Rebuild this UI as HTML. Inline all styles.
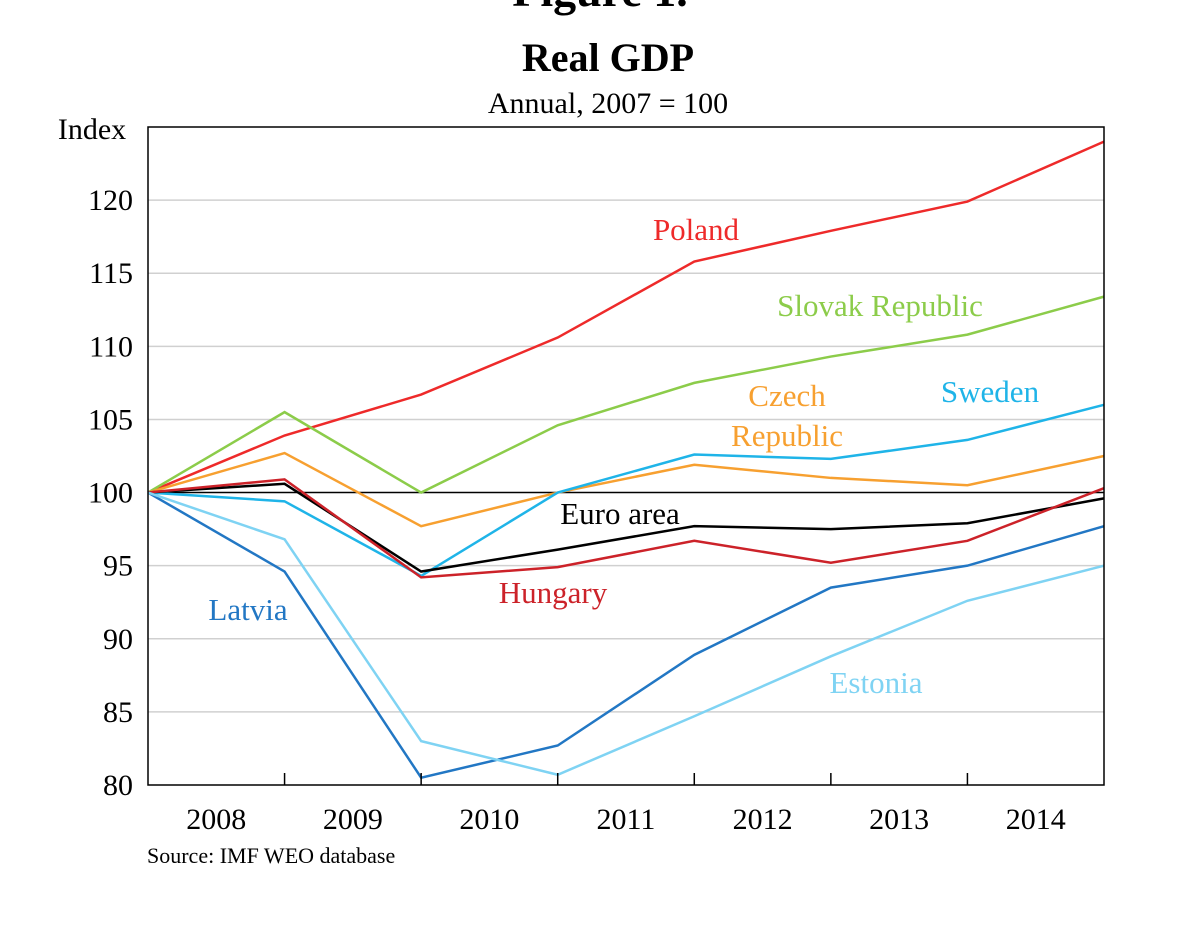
<!DOCTYPE html>
<html><head><meta charset="utf-8"><style>
body{margin:0;background:#fff;width:1200px;height:938px;overflow:hidden}
svg{font-family:"Liberation Serif",serif}
</style></head><body>
<svg id="chart" width="1200" height="938" xmlns="http://www.w3.org/2000/svg">
<text x="600" y="6" text-anchor="middle" font-size="46" font-weight="bold">Figure 1.</text>
<text x="608" y="71" text-anchor="middle" font-size="40" font-weight="bold">Real GDP</text>
<text x="608" y="113" text-anchor="middle" font-size="30">Annual, 2007 = 100</text>
<text x="92" y="139" text-anchor="middle" font-size="30">Index</text>
<text x="147" y="863" font-size="22">Source: IMF WEO database</text>
<g id="grid"></g><g id="series"></g><g id="axes"></g>
</svg>
<script>
const years=["2008","2009","2010","2011","2012","2013","2014"];
const yTicks=[80,85,90,95,100,105,110,115,120];
const poland=[100,103.9,106.7,110.6,115.8,117.9,119.9,124.0];
const slovak=[100,105.5,100,104.6,107.5,109.3,110.8,113.4];
const czech=[100,102.7,97.7,100,101.9,101.0,100.5,102.5];
const sweden=[100,99.4,94.3,100,102.6,102.3,103.6,106.0];
const euro=[100,100.6,94.6,96.1,97.7,97.5,97.9,99.6];
const hungary=[100,100.9,94.2,94.9,96.7,95.2,96.7,100.3];
const latvia=[100,94.6,80.5,82.7,88.9,93.5,95.0,97.7];
const estonia=[100,96.8,83.0,80.7,84.7,88.8,92.6,95.0];
const L=148,R=1104,T=127,B=785,vmin=80,vmax=125;
const NS="http://www.w3.org/2000/svg";
const X=i=>L+(R-L)*i/7;
const Y=v=>B-(v-vmin)/(vmax-vmin)*(B-T);
function mk(t,a,p){const e=document.createElementNS(NS,t);for(const k in a)e.setAttribute(k,a[k]);p.appendChild(e);return e;}
const grid=document.getElementById('grid'),ser=document.getElementById('series'),ax=document.getElementById('axes');
yTicks.forEach(v=>{
 if(v>80&&v!==100){const g=mk('line',{x1:L,x2:R,y1:Y(v),y2:Y(v),stroke:'#d0d0d0','stroke-width':1.5},grid);
 
 }
 const t=mk('text',{x:133,y:Y(v)+10,'text-anchor':'end','font-size':30},ax);t.textContent=v;
 
 
});
const base=mk('line',{x1:L,x2:R,y1:Y(100),y2:Y(100),stroke:'#000','stroke-width':1.5},grid);


const frame=mk('rect',{x:L,y:T,width:R-L,height:B-T,fill:'none',stroke:'#000','stroke-width':1.5},ax);


for(let i=1;i<7;i++){const tk=mk('line',{x1:X(i),x2:X(i),y1:B,y2:B-12,stroke:'#000','stroke-width':1.5},ax);
 
 }
years.forEach((y,i)=>{const t=mk('text',{x:(X(i)+X(i+1))/2,y:829,'text-anchor':'middle','font-size':30},ax);t.textContent=y;
 
 });
const S=[["poland",poland,"#ee2a2a","Poland",696,240],["slovak-republic",slovak,"#8ccc4a","Slovak Republic",880,316],
["czech-republic",czech,"#f7a030","Czech",787,406],["sweden",sweden,"#1fb4e8","Sweden",990,402],
["euro-area",euro,"#000","Euro area",620,524],["hungary",hungary,"#cc2229","Hungary",553,603],
["latvia",latvia,"#2277c4","Latvia",248,620],["estonia",estonia,"#7fd3f3","Estonia",876,693]];
S.forEach(s=>{
 const p=mk('polyline',{points:s[1].map((v,i)=>X(i)+','+Y(v)).join(' '),fill:'none',stroke:s[2],'stroke-width':2.5},ser);
 
 
 const t=mk('text',{x:s[4],y:s[5],'text-anchor':'middle','font-size':31,fill:s[2]},ser);t.textContent=s[3];
 
 
});
const t2=mk('text',{x:787,y:446,'text-anchor':'middle','font-size':31,fill:'#f7a030'},ser);t2.textContent='Republic';


</script>
</body></html>
